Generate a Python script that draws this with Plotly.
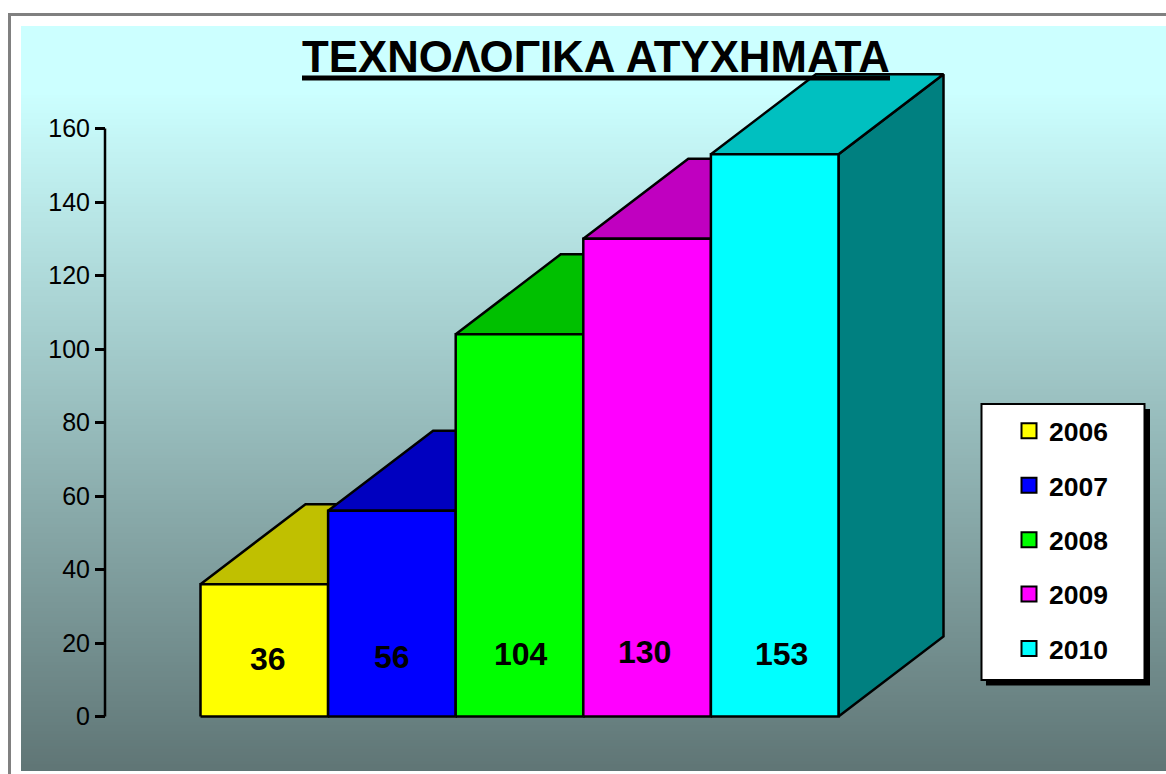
import plotly.graph_objects as go

years = ["2006", "2007", "2008", "2009", "2010"]
values = [36, 56, 104, 130, 153]
front_colors = ["#FFFF00", "#0000FF", "#00FF00", "#FF00FF", "#00FFFF"]
top_colors = ["#C0C000", "#0000C0", "#00C000", "#C000C0", "#00C0C0"]
side_colors = ["#808000", "#000080", "#008000", "#800080", "#008080"]
y_ticks = [0, 20, 40, 60, 80, 100, 120, 140, 160]
title_text = "ΤΕΧΝΟΛΟΓΙΚΑ ΑΤΥΧΗΜΑΤΑ"

W, H = 1166, 774
PX_X = 127.6      # pixels per bar slot
PX_Y = 3.675      # pixels per value unit
X0_PX = 264.3     # centre of first bar
Y0_PX = 716.5     # value 0
AXIS_PX = 105
DEPTH_X = 105 / PX_X
DEPTH_Y = 80 / PX_Y
label_dx = [0.03, 0.0, 0.01, -0.02, 0.05]
label_dy = [-58, -60, -63, -65, -63]   # pixel shift from baseline
EDGE = 2.5


def px_x(p):
    return (p - X0_PX) / PX_X


fig = go.Figure()

# spine of the value axis
fig.add_trace(go.Scatter(x=[px_x(AXIS_PX)] * 2, y=[y_ticks[0], y_ticks[-1]], mode="lines",
                         line=dict(color="black", width=EDGE), showlegend=False, hoverinfo="skip"))

for i, v in enumerate(values):
    l, r = i - 0.5, i + 0.5
    polys = [
        ([r, r + DEPTH_X, r + DEPTH_X, r, r], [0, DEPTH_Y, v + DEPTH_Y, v, 0], side_colors[i]),
        ([l, l + DEPTH_X, r + DEPTH_X, r, l], [v, v + DEPTH_Y, v + DEPTH_Y, v, v], top_colors[i]),
        ([l, r, r, l, l], [0, 0, v, v, 0], front_colors[i]),
    ]
    for xs, ys, c in polys:
        fig.add_trace(go.Scatter(x=xs, y=ys, mode="lines", fill="toself", fillcolor=c,
                                 line=dict(color="black", width=EDGE), showlegend=False,
                                 hoverinfo="skip"))

for i, y in enumerate(years):
    fig.add_trace(go.Scatter(x=[None], y=[None], mode="markers", name=y, legendgroup=y,
                             marker=dict(symbol="square", size=15, color=front_colors[i],
                                         line=dict(color="black", width=2))))

shapes = []
# background gradient in strips
TOP, BOT = 26, 771
c0, c1 = (204, 255, 255), (95, 117, 117)
FLAT = 90
step = 3
for p in range(TOP, BOT, step):
    t = max(0, (p - FLAT) / (BOT - FLAT))
    c = tuple(round(a + (b - a) * t) for a, b in zip(c0, c1))
    shapes.append(dict(type="rect", xref="paper", yref="paper", layer="below",
                       x0=21 / W, x1=1, y0=1 - min(p + step, BOT) / H, y1=1 - p / H,
                       line=dict(width=0), fillcolor=f"rgb{c}"))


def box(x0, y0, x1, y1, fill, line=None, layer="below"):
    return dict(type="rect", xref="paper", yref="paper", layer=layer,
                x0=x0 / W, x1=x1 / W, y0=1 - y1 / H, y1=1 - y0 / H, fillcolor=fill,
                line=dict(width=2, color=line) if line else dict(width=0))


shapes.append(box(8, 13, W, 16, "#808080"))
shapes.append(box(8, 13, 11, H, "#808080"))
shapes.append(box(986, 409, 1150, 685.5, "black"))
shapes.append(box(981.5, 404, 1144.5, 680, "white", "black"))
# title underline
shapes.append(box(302, 75.5, 890, 80.5, "black", layer="above"))

annotations = [
    dict(x=i + label_dx[i], y=0, xref="x", yref="y", yshift=-label_dy[i], showarrow=False,
         text=f"<b>{v}</b>", font=dict(family="Liberation Sans", size=32, color="black"),
         xanchor="center", yanchor="middle")
    for i, v in enumerate(values)
]

fig.update_layout(
    width=W, height=H, margin=dict(l=0, r=0, t=0, b=0, pad=0),
    paper_bgcolor="white", plot_bgcolor="rgba(0,0,0,0)",
    font=dict(family="Liberation Sans", color="black"),
    title=dict(text=f"<b>{title_text}</b>", x=596 / W, y=1 - 57 / H,
               xanchor="center", yanchor="middle", xref="paper", yref="paper",
               font=dict(family="Liberation Sans", size=43.75, color="black")),
    xaxis=dict(visible=False, range=[px_x(0), px_x(W)], fixedrange=True),
    yaxis=dict(range=[(Y0_PX - H) / PX_Y, Y0_PX / PX_Y], anchor="free", position=AXIS_PX / W,
               tickmode="array", tickvals=y_ticks, ticks="outside", ticklen=10, tickwidth=2.5,
               tickcolor="black", showgrid=False, zeroline=False, showline=False,
               tickfont=dict(family="Liberation Sans", size=25, color="black"), fixedrange=True),
    legend=dict(x=1009 / W, y=1 - 407 / H, xanchor="left", yanchor="top",
                bgcolor="rgba(0,0,0,0)", borderwidth=0, tracegroupgap=17, itemsizing="trace",
                traceorder="grouped",
                font=dict(family="Liberation Sans", size=26.5, color="black", weight="bold")),
    shapes=shapes, annotations=annotations,
)

fig.write_html("out.html", config=dict(displayModeBar=False),
               post_script="document.body.style.margin='0';document.body.style.overflow='hidden';")
